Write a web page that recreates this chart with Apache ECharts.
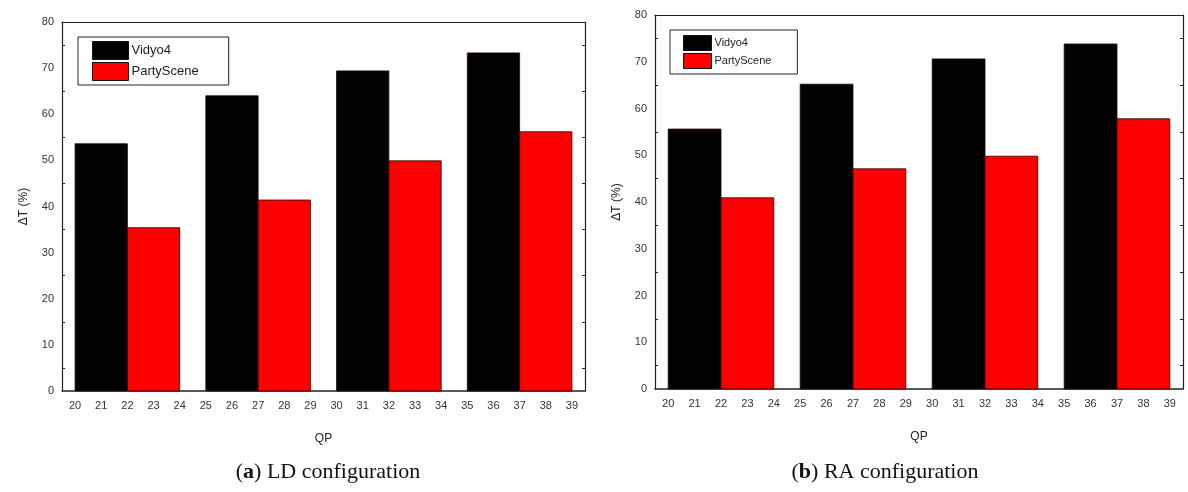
<!DOCTYPE html>
<html>
<head>
<meta charset="utf-8">
<script src="https://cdn.jsdelivr.net/npm/echarts@6/dist/echarts.min.js"></script>
<style>
  html, body { margin: 0; padding: 0; background: #fff; }
  #chart { width: 1188px; height: 492px; }
</style>
</head>
<body>
<div id="chart"></div>
<script>
// QP tick labels on the x axis
const qpLabels = ['20','21','22','23','24','25','26','27','28','29','30','31','32','33','34','35','36','37','38','39']
// each bar spans two QP steps, starting at these QPs
const vidyoStart = [20, 25, 30, 35]
const partyStart = [22, 27, 32, 37]
// ΔT (%) values
const ldVidyo4 = [53.6, 64.0, 69.4, 73.3]
const ldParty = [35.4, 41.4, 49.9, 56.2]
const raVidyo4 = [55.6, 65.2, 70.6, 73.8]
const raParty = [40.9, 47.1, 49.8, 57.8]

const chart = echarts.init(document.getElementById('chart'))

const toData = (starts, vals) => starts.map((s, i) => [qpLabels.indexOf(String(s)), vals[i]])

const renderBar = (params, api) => {
  const x0 = api.value(0)
  const v = api.value(1)
  const p0 = api.coord([x0, 0])
  const p1 = api.coord([x0 + 2, v])
  return {
    type: 'rect',
    shape: { x: p0[0], y: p1[1], width: p1[0] - p0[0], height: p0[1] - p1[1] },
    style: { fill: api.visual('color'), stroke: '#2a0000', lineWidth: 0.8 }
  }
}

const labelStyle = { color: '#333', fontSize: 11, fontFamily: 'Liberation Sans, Arial, sans-serif' }
const nameStyle = { color: '#222', fontSize: 12, fontFamily: 'Liberation Sans, Arial, sans-serif' }

function axesFor(gi) {
  const x = [{
    type: 'category', gridIndex: gi, data: qpLabels, boundaryGap: true,
    axisLine: { onZero: false, lineStyle: { color: '#222', width: 1.5 } },
    axisTick: { inside: true, alignWithLabel: true, length: 4, lineStyle: { color: '#222' } },
    axisLabel: Object.assign({ margin: 9 }, labelStyle),
    name: 'QP', nameLocation: 'middle', nameGap: 42, nameTextStyle: nameStyle
  }, {
    type: 'category', gridIndex: gi, data: qpLabels, boundaryGap: true, position: 'top',
    axisLine: { onZero: false, lineStyle: { color: '#222', width: 1.2 } },
    axisTick: { inside: true, alignWithLabel: true, length: 4, lineStyle: { color: '#222' } },
    axisLabel: { show: false }
  }]
  const y = [{
    type: 'value', gridIndex: gi, min: 0, max: 80, interval: 10,
    axisLine: { show: true, onZero: false, lineStyle: { color: '#222', width: 1.2 } },
    axisTick: { inside: true, length: 5, lineStyle: { color: '#222' } },
    minorTick: { show: true, splitNumber: 2, length: 3, lineStyle: { color: '#222' } },
    splitLine: { show: false },
    axisLabel: Object.assign({ margin: 8 }, labelStyle),
    name: 'ΔT (%)', nameLocation: 'middle', nameGap: 32, nameTextStyle: nameStyle
  }, {
    type: 'value', gridIndex: gi, min: 0, max: 80, interval: 10, position: 'right',
    axisLine: { show: true, onZero: false, lineStyle: { color: '#222', width: 1.2 } },
    axisTick: { inside: true, length: 5, lineStyle: { color: '#222' } },
    minorTick: { show: true, splitNumber: 2, length: 3, lineStyle: { color: '#222' } },
    splitLine: { show: false },
    axisLabel: { show: false }
  }]
  return { x, y }
}

const a = axesFor(0)
const b = axesFor(1)

const mkSeries = (name, color, data, gi) => ({
  type: 'custom', name, xAxisIndex: gi * 2, yAxisIndex: gi * 2,
  itemStyle: { color }, renderItem: renderBar, data, silent: true
})

const captionFont = 'Liberation Serif, DejaVu Serif, serif'
const captionRich = {
  b: { fontFamily: captionFont, fontSize: 22, fontWeight: 'bold', color: '#111' },
  n: { fontFamily: captionFont, fontSize: 22, fontWeight: 'normal', color: '#111' }
}

const option = {
  animation: false,
  backgroundColor: '#fff',
  title: [{
    text: '{n|(}{b|a}{n|) LD configuration}', left: 323, top: 456, textAlign: 'center',
    textStyle: { fontWeight: 'normal', rich: captionRich }
  }, {
    text: '{n|(}{b|b}{n|) RA configuration}', left: 880, top: 456, textAlign: 'center',
    textStyle: { fontWeight: 'normal', rich: captionRich }
  }],
  legend: [{
    data: ['Vidyo4', 'PartyScene'], orient: 'vertical', left: 78, top: 37, icon: 'rect',
    padding: [4, 30, 4, 14], itemGap: 2, itemWidth: 36, itemHeight: 18,
    borderColor: '#222', borderWidth: 1, selectedMode: false,
    itemStyle: { borderColor: '#111', borderWidth: 1 },
    textStyle: { color: '#222', fontSize: 13, fontFamily: 'Liberation Sans, Arial, sans-serif', padding: [0, 0, 0, -2] }
  }, {
    data: ['Vidyo4', 'PartyScene'], orient: 'vertical', left: 670, top: 30, icon: 'rect',
    padding: [5, 26, 5, 13], itemGap: 2, itemWidth: 28, itemHeight: 15,
    borderColor: '#222', borderWidth: 1, selectedMode: false,
    itemStyle: { borderColor: '#111', borderWidth: 1 },
    textStyle: { color: '#222', fontSize: 11, fontFamily: 'Liberation Sans, Arial, sans-serif', padding: [0, 0, 0, -2] }
  }],
  grid: [
    { left: 62, top: 22, width: 523, height: 369 },
    { left: 655, top: 15, width: 528, height: 374 }
  ],
  xAxis: a.x.concat(b.x),
  yAxis: a.y.concat(b.y),
  series: [
    mkSeries('Vidyo4', '#000000', toData(vidyoStart, ldVidyo4), 0),
    mkSeries('PartyScene', '#ff0000', toData(partyStart, ldParty), 0),
    mkSeries('Vidyo4', '#000000', toData(vidyoStart, raVidyo4), 1),
    mkSeries('PartyScene', '#ff0000', toData(partyStart, raParty), 1)
  ]
}

chart.setOption(option)
</script>
</body>
</html>
